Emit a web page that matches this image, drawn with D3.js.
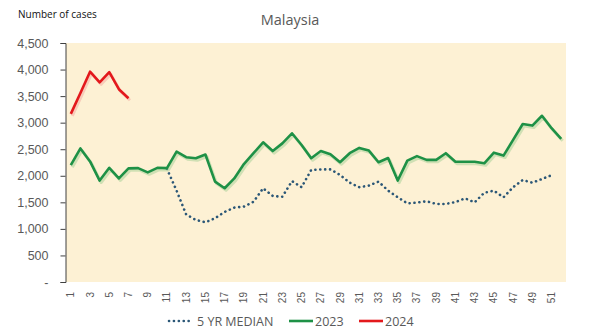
<!DOCTYPE html>
<html><head><meta charset="utf-8">
<script src="https://cdn.jsdelivr.net/npm/d3@7"></script>
<style>body{margin:0;background:#fff;} svg{display:block;font-family:"Open Sans","Liberation Sans",sans-serif;}</style>
</head><body>
<svg id="c" width="594" height="329"></svg>
<script>
const weeks = d3.range(1, 53);
const tickWeeks = d3.range(1, 52, 2);
const yTicks = [0, 500, 1000, 1500, 2000, 2500, 3000, 3500, 4000, 4500];
// 5 YR MEDIAN: weeks 11..51
const medianWeeks = d3.range(11, 52);
const medianValues = [2130,1720,1270,1170,1125,1200,1320,1400,1420,1510,1765,1620,1605,1900,1785,2110,2120,2120,2015,1870,1785,1815,1890,1720,1595,1480,1495,1520,1470,1470,1505,1575,1500,1680,1720,1595,1785,1920,1870,1940,2010];
const values2023 = [2200,2515,2270,1910,2150,1950,2140,2145,2065,2150,2145,2455,2350,2330,2400,1890,1765,1950,2220,2425,2630,2465,2610,2800,2580,2330,2465,2405,2255,2425,2525,2475,2255,2335,1910,2285,2370,2300,2300,2425,2265,2265,2265,2235,2435,2380,2675,2975,2945,3130,2895,2695];
const weeks2024 = d3.range(1, 8);
const values2024 = [3165,3560,3960,3760,3950,3630,3460];

const svg = d3.select("#c");
const L = 66, R = 566, T = 43, B = 282;
const x = d3.scaleBand().domain(weeks).range([L, R]);
const xc = w => x(w) + x.bandwidth() / 2;
const y = d3.scaleLinear().domain([0, 4500]).range([B, T]);

svg.append("rect").attr("x", L).attr("y", T).attr("width", R - L).attr("height", B - T).attr("fill", "#FDF1D4");

// y axis
const yAxis = d3.axisLeft(y).tickValues(yTicks).tickSize(5).tickPadding(12)
  .tickFormat(d => d === 0 ? "-" : d3.format(",")(d));
const ga = svg.append("g").attr("transform", `translate(${L - 0.5},0)`).call(yAxis);
ga.select(".domain").attr("stroke", "#404040");
ga.selectAll(".tick line").attr("stroke", "#404040");
ga.selectAll("text").attr("fill", "#595959").style("font-size", "12.5px");

// x axis labels
const xAxis = d3.axisBottom(x).tickValues(tickWeeks).tickSize(0).tickPadding(0);
const gx = svg.append("g").attr("transform", `translate(0,${B})`).call(xAxis);
gx.select(".domain").remove();
gx.selectAll("text").attr("fill", "#595959").style("font-size", "10px")
  .attr("text-anchor", "end").attr("dy", "0.35em")
  .attr("transform", "translate(0,10) rotate(-90)").attr("x", 0).attr("y", 0);

const line = d3.line().x(d => xc(d[0])).y(d => y(d[1]));

function drawLine(ws, vs, color, opts) {
  const pts = ws.map((w, i) => [w, vs[i]]);
  if (opts.shadow) {
    svg.append("path").datum(pts).attr("d", line).attr("fill", "none")
      .attr("stroke", opts.shadow).attr("stroke-width", 3).attr("stroke-opacity", 0.45)
      .attr("transform", "translate(1.5,2)").attr("stroke-linejoin", "round");
  }
  const p = svg.append("path").datum(pts).attr("d", line).attr("fill", "none")
    .attr("stroke", color).attr("stroke-width", opts.w).attr("stroke-linejoin", "round");
  if (opts.dash) p.attr("stroke-dasharray", opts.dash).attr("stroke-linecap", "round");
}

drawLine(medianWeeks, medianValues, "#2B5777", {w: 2.6, dash: "0.1,4.8"});
drawLine(weeks, values2023, "#1E9146", {w: 2.6, shadow: "#9ACB8F"});
drawLine(weeks2024, values2024, "#E3191C", {w: 2.6, shadow: "#F2A09A"});

// titles
svg.append("text").attr("x", 290).attr("y", 25).attr("text-anchor", "middle")
  .attr("fill", "#595959").style("font-size", "14.5px").text("Malaysia");
svg.append("text").attr("x", 18).attr("y", 18)
  .attr("fill", "#111").style("font-size", "10px").text("Number of cases");

// legend
const ly = 321;
const lg = svg.append("g");
lg.append("line").attr("x1", 169).attr("x2", 192).attr("y1", ly).attr("y2", ly)
  .attr("stroke", "#2B5777").attr("stroke-width", 2.6).attr("stroke-linecap", "round").attr("stroke-dasharray", "0.1,4.8");
lg.append("text").attr("x", 197).attr("y", ly + 4.5).attr("fill", "#595959").style("font-size", "12.5px").text("5 YR MEDIAN");
lg.append("line").attr("x1", 289).attr("x2", 313).attr("y1", ly).attr("y2", ly).attr("stroke", "#1E9146").attr("stroke-width", 2.6);
lg.append("text").attr("x", 315).attr("y", ly + 4.5).attr("fill", "#595959").style("font-size", "12.5px").text("2023");
lg.append("line").attr("x1", 359).attr("x2", 383).attr("y1", ly).attr("y2", ly).attr("stroke", "#E3191C").attr("stroke-width", 2.6);
lg.append("text").attr("x", 385).attr("y", ly + 4.5).attr("fill", "#595959").style("font-size", "12.5px").text("2024");
</script>
</body></html>
